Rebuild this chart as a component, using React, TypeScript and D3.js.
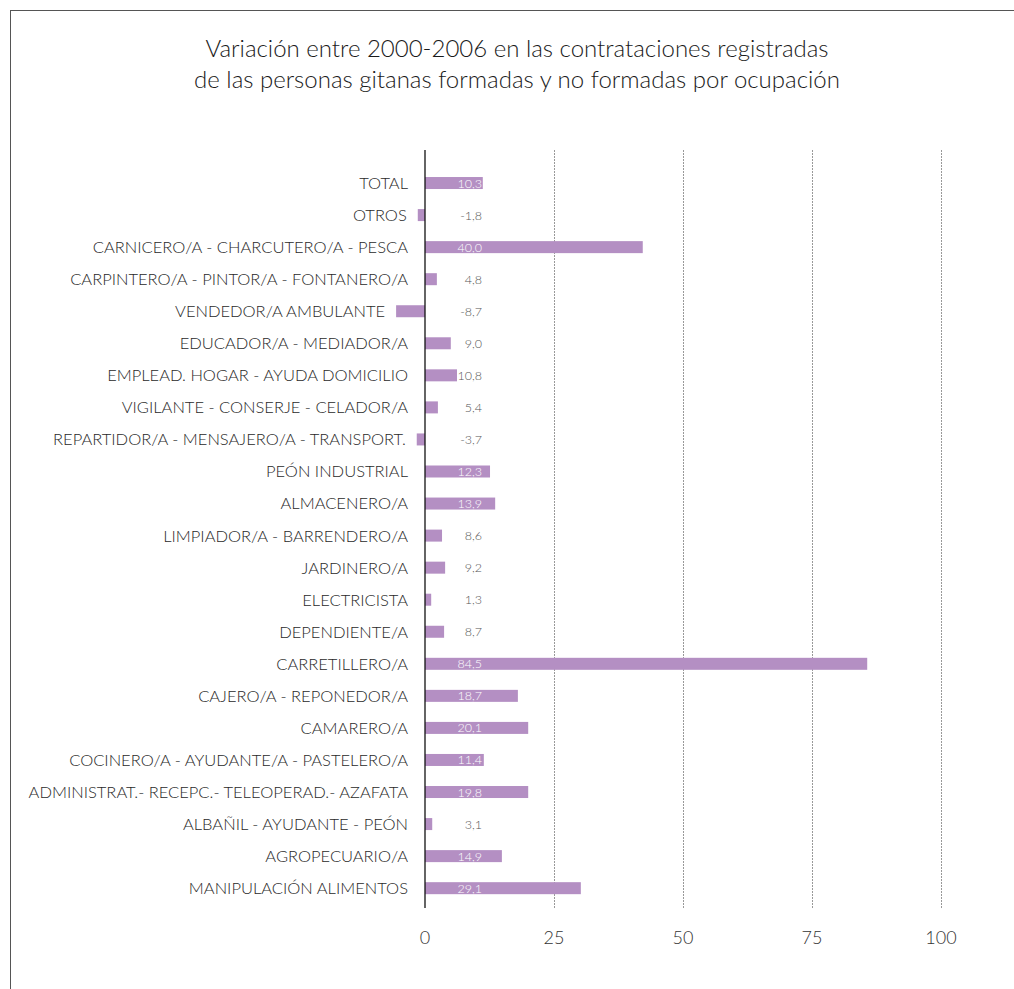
import * as d3 from 'd3';

const categories = [
  'TOTAL',
  'OTROS',
  'CARNICERO/A - CHARCUTERO/A - PESCA',
  'CARPINTERO/A - PINTOR/A - FONTANERO/A',
  'VENDEDOR/A AMBULANTE',
  'EDUCADOR/A - MEDIADOR/A',
  'EMPLEAD. HOGAR - AYUDA DOMICILIO',
  'VIGILANTE - CONSERJE - CELADOR/A',
  'REPARTIDOR/A - MENSAJERO/A - TRANSPORT.',
  'PEÓN INDUSTRIAL',
  'ALMACENERO/A',
  'LIMPIADOR/A - BARRENDERO/A',
  'JARDINERO/A',
  'ELECTRICISTA',
  'DEPENDIENTE/A',
  'CARRETILLERO/A',
  'CAJERO/A - REPONEDOR/A',
  'CAMARERO/A',
  'COCINERO/A - AYUDANTE/A - PASTELERO/A',
  'ADMINISTRAT.- RECEPC.- TELEOPERAD.- AZAFATA',
  'ALBAÑIL - AYUDANTE - PEÓN',
  'AGROPECUARIO/A',
  'MANIPULACIÓN ALIMENTOS',
];

// printed values
const valueLabels = [
  '10,3', '-1,8', '40,0', '4,8', '-8,7', '9,0', '10,8', '5,4', '-3,7', '12,3', '13,9',
  '8,6', '9,2', '1,3', '8,7', '84,5', '18,7', '20,1', '11,4', '19,8', '3,1', '14,9', '29,1',
];

// bar lengths as drawn in the source (they don't always agree with the printed value)
const barValues = [
  11.2, -1.4, 42.2, 2.3, -5.6, 5.0, 6.2, 2.5, -1.6, 12.6, 13.6,
  3.3, 3.9, 1.2, 3.7, 85.7, 18.0, 20.0, 11.4, 20.0, 1.4, 14.9, 30.2,
];

const ticks = [0, 25, 50, 75, 100];

const W = 1014;
const H = 989;
const FONT = 'Lato, "Open Sans", sans-serif';

export default function App() {
  const x = d3.scaleLinear().domain([0, 100]).range([425, 941]);
  const y = d3.scaleBand<string>().domain(categories).range([167, 904.2]);
  const barH = 12;
  const labelRight = x(0) + 57;

  return (
    <div style={{ position: 'absolute', left: 0, top: 0 }}>
      <svg width={W} height={H} viewBox={`0 0 ${W} ${H}`} style={{ display: 'block', background: '#fff' }}>
        {/* frame */}
        <line x1={10} y1={10.5} x2={W} y2={10.5} stroke="#555" strokeWidth={1} />
        <line x1={10.5} y1={10} x2={10.5} y2={H} stroke="#555" strokeWidth={1} />

        <text x={517} y={57} textAnchor="middle" fontFamily={FONT} fontWeight={300} fontSize={24} fill="#1a1a1a">
          Variación entre 2000-2006 en las contrataciones registradas
        </text>
        <text x={517} y={88} textAnchor="middle" fontFamily={FONT} fontWeight={300} fontSize={24} fill="#1a1a1a">
          de las personas gitanas formadas y no formadas por ocupación
        </text>

        {/* grid */}
        {ticks.slice(1).map(t => (
          <line key={t} x1={x(t) + 0.5} x2={x(t) + 0.5} y1={150} y2={908} stroke="#999" strokeWidth={1} strokeDasharray="2,1" />
        ))}

        {/* bars */}
        {categories.map((c, i) => {
          const v = barValues[i];
          const x0 = x(Math.min(0, v));
          const x1 = x(Math.max(0, v));
          const cy = (y(c) as number) + y.bandwidth() / 2;
          const onBar = x(v) >= labelRight;
          const labelEnd = Math.min(408, x0 - 11);
          return (
            <g key={c}>
              <rect x={x0} y={cy - barH / 2} width={x1 - x0} height={barH} fill="#b48fc3" />
              <text x={labelEnd} y={cy} dy="0.36em" textAnchor="end" fontFamily={FONT} fontWeight={300} fontSize={16.5} fill="#2a2a2a">
                {c}
              </text>
              <text x={labelRight} y={cy} dy="0.36em" textAnchor="end" fontFamily={FONT} fontWeight={300} fontSize={12.5} fill={onBar ? '#fff' : '#555'}>
                {valueLabels[i]}
              </text>
            </g>
          );
        })}

        {/* zero axis */}
        <line x1={x(0)} x2={x(0)} y1={150} y2={908} stroke="#111" strokeWidth={1.3} />

        {ticks.map(t => (
          <text key={t} x={x(t)} y={944} textAnchor="middle" fontFamily={FONT} fontWeight={300} fontSize={18} fill="#333">
            {t}
          </text>
        ))}
      </svg>
    </div>
  );
}
